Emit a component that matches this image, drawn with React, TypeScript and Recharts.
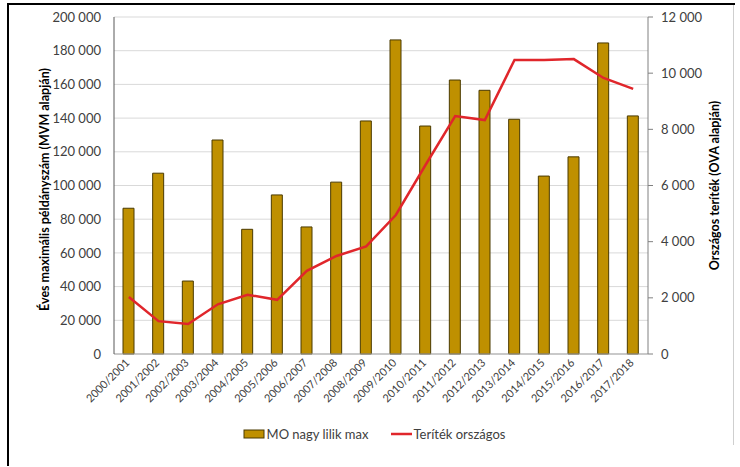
import React from 'react';
import {
  ComposedChart,
  Bar,
  Line,
  XAxis,
  YAxis,
  CartesianGrid,
  Legend
} from 'recharts';

// Idényenkénti adatok
const seasons = [
  '2000/2001', '2001/2002', '2002/2003', '2003/2004', '2004/2005', '2005/2006',
  '2006/2007', '2007/2008', '2008/2009', '2009/2010', '2010/2011', '2011/2012',
  '2012/2013', '2013/2014', '2014/2015', '2015/2016', '2016/2017', '2017/2018'
];

// MO nagy lilik max (bal tengely)
const maxCounts = [
  86500, 107300, 43300, 127000, 74000, 94400, 75400, 102000, 138300,
  186400, 135300, 162600, 156500, 139300, 105600, 117000, 184600, 141300
];

// Teríték országos (jobb tengely)
const nationalBag = [
  2030, 1170, 1070, 1770, 2110, 1930, 2960, 3490, 3830,
  4950, 6730, 8470, 8330, 10470, 10470, 10500, 9830, 9440
];

const leftTicks = [0, 20000, 40000, 60000, 80000, 100000, 120000, 140000, 160000, 180000, 200000];
const rightTicks = [0, 2000, 4000, 6000, 8000, 10000, 12000];

const chartData = seasons.map((season, i) => ({
  season,
  max: maxCounts[i],
  bag: nationalBag[i]
}));

const FONT = 'Lato, "Open Sans", sans-serif';
const TEXT = '#404040';
const BAR_FILL = '#BF9000';
const BAR_STROKE = '#4a3a00';
const LINE_COLOR = '#e0262b';

// szóköz ezres elválasztó
const fmt = (v: number) => v.toLocaleString('en-US').replace(/,/g, ' ');

const SeasonTick = ({ x, y, payload }: any) => (
  <g transform={`translate(${x},${y})`}>
    <text
      x={0}
      y={0}
      dy={2}
      transform="rotate(-45)"
      textAnchor="end"
      fontSize={11}
      fontFamily={FONT}
      fill={TEXT}
    >
      {payload.value}
    </text>
  </g>
);

const AxisTitle = ({ x, y, text }: { x: number; y: number; text: string }) => (
  <text
    x={x}
    y={y}
    transform={`rotate(-90, ${x}, ${y})`}
    textAnchor="middle"
    dominantBaseline="central"
    fontSize={12.5}
    fontWeight="bold"
    fontFamily={FONT}
    fill="#000"
  >
    {text}
  </text>
);

const LegendContent = () => (
  <div
    style={{
      display: 'flex',
      justifyContent: 'center',
      alignItems: 'center',
      fontFamily: FONT,
      fontSize: 13,
      color: TEXT,
      paddingLeft: 8
    }}
  >
    <svg width={22} height={10} style={{ marginRight: 2 }}>
      <rect x={1} y={1} width={20} height={8} fill={BAR_FILL} stroke={BAR_STROKE} strokeWidth={1} />
    </svg>
    <span>MO nagy lilik max</span>
    <svg width={22} height={10} style={{ marginLeft: 22, marginRight: 1 }}>
      <line x1={0} y1={5} x2={21} y2={5} stroke={LINE_COLOR} strokeWidth={2.5} />
    </svg>
    <span>Teríték országos</span>
  </div>
);

const App: React.FC = () => {
  return (
    <div style={{ position: 'absolute', left: 0, top: 0, width: 740, height: 467, background: '#fff' }}>
      {/* keret */}
      <div style={{ position: 'absolute', left: 7, top: 3, width: 2, height: 463, background: '#000' }} />
      <div style={{ position: 'absolute', left: 7, top: 3, width: 728, height: 2, background: '#000' }} />
      <div style={{ position: 'absolute', left: 733, top: 5, width: 1, height: 440, background: '#cfcfcf' }} />
      <div style={{ position: 'absolute', left: 0, top: 0 }}>
        <ComposedChart
          width={740}
          height={467}
          data={chartData}
          margin={{ top: 17, right: 20, left: 20, bottom: 6 }}
        >
          <CartesianGrid yAxisId="left" vertical={false} stroke="#d9d9d9" />
          <XAxis
            dataKey="season"
            height={72}
            interval={0}
            tickLine={false}
            stroke="#a6a6a6"
            tick={<SeasonTick />}
          />
          <YAxis
            yAxisId="left"
            width={94}
            domain={[0, 200000]}
            ticks={leftTicks}
            tickFormatter={fmt}
            tickLine={false}
            tickMargin={7}
            stroke="#595959"
            tick={{ fontSize: 13, fontFamily: FONT, fill: TEXT }}
            label={{
              content: ({ viewBox }: any) => (
                <AxisTitle x={44} y={viewBox.y + viewBox.height / 2 + 4} text="Éves maximális példányszám (MVM alapján)" />
              )
            }}
          />
          <YAxis
            yAxisId="right"
            orientation="right"
            width={72}
            domain={[0, 12000]}
            ticks={rightTicks}
            tickFormatter={fmt}
            tickSize={5}
            tickMargin={8}
            stroke="#808080"
            tick={{ fontSize: 13, fontFamily: FONT, fill: TEXT }}
            label={{
              content: ({ viewBox }: any) => (
                <AxisTitle x={714} y={viewBox.y + viewBox.height / 2} text="Országos teríték (OVA alapján)" />
              )
            }}
          />
          <Legend verticalAlign="bottom" height={35} content={<LegendContent />} />
          <Bar
            yAxisId="left"
            dataKey="max"
            name="MO nagy lilik max"
            barSize={11}
            fill={BAR_FILL}
            stroke={BAR_STROKE}
            strokeWidth={1}
            isAnimationActive={false}
          />
          <Line
            yAxisId="right"
            dataKey="bag"
            name="Teríték országos"
            type="linear"
            stroke={LINE_COLOR}
            strokeWidth={2.5}
            dot={false}
            activeDot={false}
            isAnimationActive={false}
          />
        </ComposedChart>
      </div>
    </div>
  );
};

export default App;
